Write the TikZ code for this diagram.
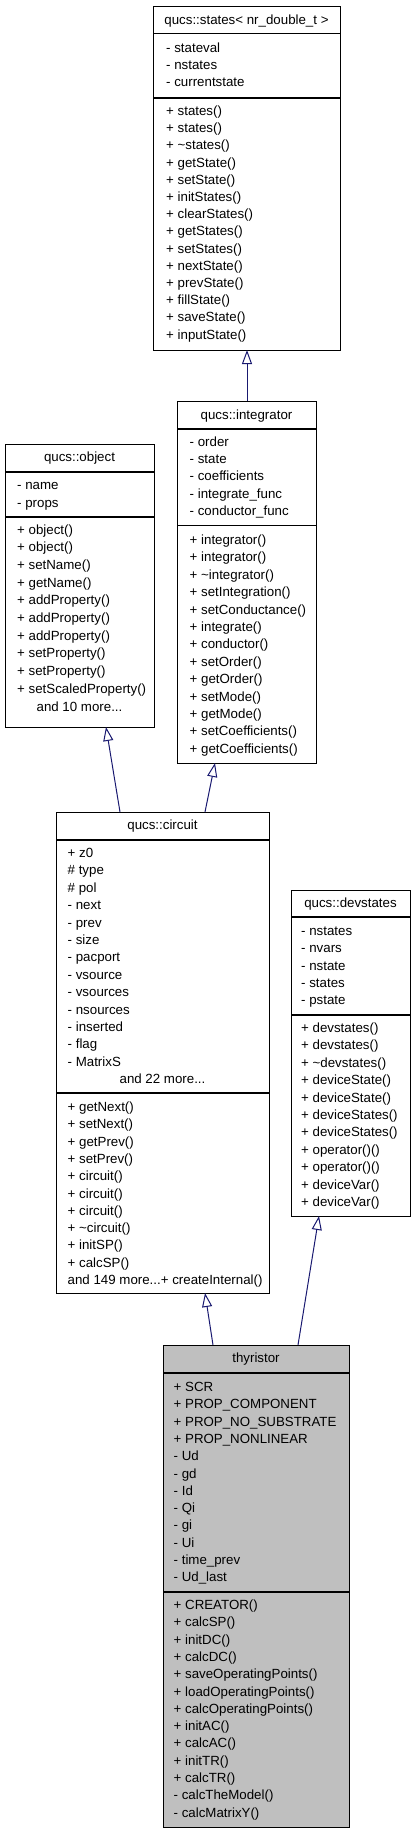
\documentclass[tikz,border=0pt]{standalone}
\usepackage{fontspec}
\setmainfont{Liberation Sans}
\usetikzlibrary{arrows.meta,calc}
\definecolor{edgeblue}{RGB}{25,25,112}
\definecolor{boxgray}{RGB}{191,191,191}
\begin{document}
\begin{tikzpicture}[x=1pt,y=-1pt,
  umlbox/.style={draw=black, line width=1pt, fill=white, inner sep=0pt, outer sep=0pt, anchor=north west},
  sepline/.style={draw=black, line width=1.2pt},
  mem/.style={anchor=base west, inner sep=0pt, font=\fontsize{13.3}{16}\selectfont},
  ttl/.style={anchor=base, inner sep=0pt, font=\fontsize{13.3}{16}\selectfont},
  inh/.style={draw=edgeblue, line width=1pt, -{Triangle[open, width=10pt, length=14pt]}}
]
\useasboundingbox (0,0) rectangle (415,1835);

% ---------- qucs::states ----------
\node[umlbox, minimum width=187pt, minimum height=343pt] (states) at (153,7) {};
\draw[sepline] (states.west |- 0,33.3) -- (states.east |- 0,33.3);
\draw[sepline] (states.west |- 0,98) -- (states.east |- 0,98);
\node[ttl] (states-t) at (246.5,24.5) {qucs::states< nr\_double\_t >};
\foreach \t [count=\i from 0] in {- stateval, - nstates, - currentstate}
  \node[mem] (states-a\i) at (166,{52.5+\i*17.2}) {\t};
\foreach \t [count=\i from 0] in {+ states(), + states(), + \textasciitilde states(), + getState(), + setState(), + initStates(), + clearStates(), + getStates(), + setStates(), + nextState(), + prevState(), + fillState(), + saveState(), + inputState()}
  \node[mem] (states-m\i) at (166,{115.5+\i*17.2}) {\t};

% ---------- qucs::integrator ----------
\node[umlbox, minimum width=139pt, minimum height=362pt] (integrator) at (177,401) {};
\draw[sepline] (integrator.west |- 0,429) -- (integrator.east |- 0,429);
\draw[sepline] (integrator.west |- 0,525.7) -- (integrator.east |- 0,525.7);
\node[ttl] (integrator-t) at (246.5,419.5) {qucs::integrator};
\foreach \t [count=\i from 0] in {- order, - state, - coefficients, - integrate\_func, - conductor\_func}
  \node[mem] (integrator-a\i) at (189.5,{446+\i*17.4}) {\t};
\foreach \t [count=\i from 0] in {+ integrator(), + integrator(), + \textasciitilde integrator(), + setIntegration(), + setConductance(), + integrate(), + conductor(), + setOrder(), + getOrder(), + setMode(), + getMode(), + setCoefficients(), + getCoefficients()}
  \node[mem] (integrator-m\i) at (189.5,{544.5+\i*17.4}) {\t};

% ---------- qucs::object ----------
\node[umlbox, minimum width=149pt, minimum height=283pt] (object) at (5,444) {};
\draw[sepline] (object.west |- 0,472) -- (object.east |- 0,472);
\draw[sepline] (object.west |- 0,517) -- (object.east |- 0,517);
\node[ttl] (object-t) at (79.5,461) {qucs::object};
\foreach \t [count=\i from 0] in {- name, - props}
  \node[mem] (object-a\i) at (17,{489.5+\i*17.5}) {\t};
\foreach \t [count=\i from 0] in {+ object(), + object(), + setName(), + getName(), + addProperty(), + addProperty(), + addProperty(), + setProperty(), + setProperty(), + setScaledProperty()}
  \node[mem] (object-m\i) at (17,{534+\i*17.7}) {\t};
\node[ttl] (object-more) at (79.5,711.5) {and 10 more...};

% ---------- qucs::circuit ----------
\node[umlbox, minimum width=213pt, minimum height=481pt] (circuit) at (56,812) {};
\draw[sepline] (circuit.west |- 0,840) -- (circuit.east |- 0,840);
\draw[sepline] (circuit.west |- 0,1093) -- (circuit.east |- 0,1093);
\node[ttl] (circuit-t) at (162.5,829) {qucs::circuit};
\foreach \t [count=\i from 0] in {+ z0, \# type, \# pol, - next, - prev, - size, - pacport, - vsource, - vsources, - nsources, - inserted, - flag, - MatrixS}
  \node[mem] (circuit-a\i) at (67.5,{857.5+\i*17.4}) {\t};
\node[ttl] (circuit-more) at (162.5,1083.7) {and 22 more...};
\foreach \t [count=\i from 0] in {+ getNext(), + setNext(), + getPrev(), + setPrev(), + circuit(), + circuit(), + circuit(), + \textasciitilde circuit(), + initSP(), + calcSP()}
  \node[mem] (circuit-m\i) at (67.5,{1111.5+\i*17.3}) {\t};
\node[mem] (circuit-m10) at (67.5,1284.5) {and 149 more...+ createInternal()};

% ---------- qucs::devstates ----------
\node[umlbox, minimum width=119pt, minimum height=326pt] (devstates) at (291,890) {};
\draw[sepline] (devstates.west |- 0,917) -- (devstates.east |- 0,917);
\draw[sepline] (devstates.west |- 0,1015) -- (devstates.east |- 0,1015);
\node[ttl] (devstates-t) at (350.5,907.5) {qucs::devstates};
\foreach \t [count=\i from 0] in {- nstates, - nvars, - nstate, - states, - pstate}
  \node[mem] (devstates-a\i) at (301,{935.5+\i*17.3}) {\t};
\foreach \t [count=\i from 0] in {+ devstates(), + devstates(), + \textasciitilde devstates(), + deviceState(), + deviceState(), + deviceStates(), + deviceStates(), + operator()(), + operator()(), + deviceVar(), + deviceVar()}
  \node[mem] (devstates-m\i) at (301,{1032.5+\i*17.4}) {\t};

% ---------- thyristor ----------
\node[umlbox, fill=boxgray, minimum width=186pt, minimum height=482pt] (thyristor) at (163,1345) {};
\draw[sepline] (thyristor.west |- 0,1373) -- (thyristor.east |- 0,1373);
\draw[sepline] (thyristor.west |- 0,1592) -- (thyristor.east |- 0,1592);
\node[ttl] (thyristor-t) at (256,1362.5) {thyristor};
\foreach \t [count=\i from 0] in {+ SCR, + PROP\_COMPONENT, + PROP\_NO\_SUBSTRATE, + PROP\_NONLINEAR, - Ud, - gd, - Id, - Qi, - gi, - Ui, - time\_prev, - Ud\_last}
  \node[mem] (thyristor-a\i) at (173.5,{1391.5+\i*17.3}) {\t};
\foreach \t [count=\i from 0] in {+ CREATOR(), + calcSP(), + initDC(), + calcDC(), + saveOperatingPoints(), + loadOperatingPoints(), + calcOperatingPoints(), + initAC(), + calcAC(), + initTR(), + calcTR(), - calcTheModel(), - calcMatrixY()}
  \node[mem] (thyristor-m\i) at (173.5,{1609.5+\i*17.3}) {\t};

% ---------- inheritance connectors ----------
\draw[inh] ($(integrator.north west)+(70,0)$) -- ($(states.south west)+(94,0)$);
\draw[inh] ($(circuit.north west)+(64,0)$) -- ($(object.south west)+(101,0)$);
\draw[inh] ($(circuit.north west)+(149,0)$) -- ($(integrator.south west)+(38,0)$);
\draw[inh] ($(thyristor.north west)+(50,0)$) -- ($(circuit.south west)+(149,0)$);
\draw[inh] ($(thyristor.north west)+(135,0)$) -- ($(devstates.south west)+(28,0)$);
\end{tikzpicture}
\end{document}
